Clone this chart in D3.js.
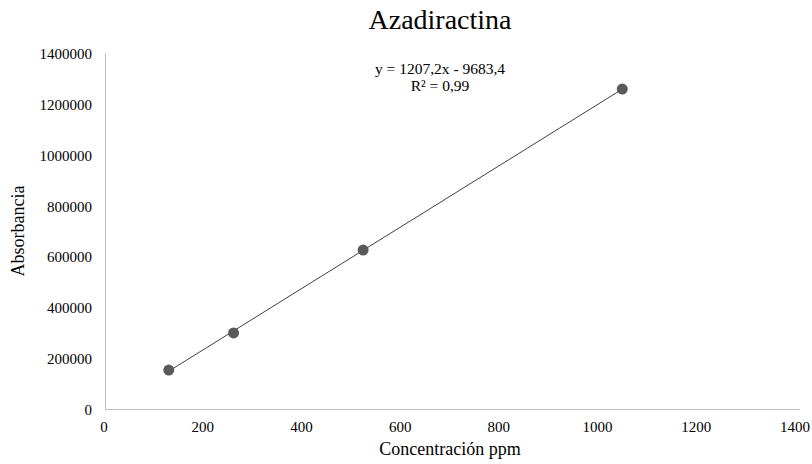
<!DOCTYPE html>
<html>
<head>
<meta charset="utf-8">
<script src="https://cdn.jsdelivr.net/npm/d3@7"></script>
<style>
  body { margin: 0; background: #fff; }
</style>
</head>
<body>
<div id="chart"></div>
<script>
// data
const concentracion = [131.25, 262.5, 525, 1050];
const absorbancia = [153000, 299000, 625000, 1258000];
const xTicks = [0, 200, 400, 600, 800, 1000, 1200, 1400];
const yTicks = [0, 200000, 400000, 600000, 800000, 1000000, 1200000, 1400000];
const slope = 1207.2;
const intercept = -9683.4;

const width = 812, height = 464;
const margin = { top: 53, right: 17, bottom: 55, left: 104 };
const serif = "'Times New Roman', 'Liberation Serif', 'DejaVu Serif', serif";

const svg = d3.select("#chart")
    .append("svg")
    .attr("width", width)
    .attr("height", height)
    .style("font-family", serif);

const x = d3.scaleLinear()
    .domain([0, 1400])
    .range([margin.left, width - margin.right]);

const y = d3.scaleLinear()
    .domain([0, 1400000])
    .range([height - margin.bottom, margin.top]);

// axis lines (light gray, no tick marks)
svg.append("line")
    .attr("x1", x(0) + 1.5).attr("x2", x(1400) + 5)
    .attr("y1", y(0) + 0.5).attr("y2", y(0) + 0.5)
    .attr("stroke", "#bfbfbf").attr("stroke-width", 1);

svg.append("line")
    .attr("x1", x(0) + 1.5).attr("x2", x(0) + 1.5)
    .attr("y1", y(0) + 0.5).attr("y2", y(1400000))
    .attr("stroke", "#bfbfbf").attr("stroke-width", 1);

// tick labels
svg.selectAll(".xlab")
    .data(xTicks)
    .join("text")
    .attr("class", "xlab")
    .attr("x", d => x(d))
    .attr("y", y(0) + 23)
    .attr("text-anchor", "middle")
    .style("font-family", serif)
    .style("font-size", "15px")
    .text(d => d);

svg.selectAll(".ylab")
    .data(yTicks)
    .join("text")
    .attr("class", "ylab")
    .attr("x", x(0) - 12)
    .attr("y", d => y(d) + 6)
    .attr("text-anchor", "end")
    .style("font-family", serif)
    .style("font-size", "15px")
    .text(d => d);

// trendline across the data range
const xMin = d3.min(concentracion), xMax = d3.max(concentracion);
svg.append("line")
    .attr("x1", x(xMin)).attr("y1", y(slope * xMin + intercept))
    .attr("x2", x(xMax)).attr("y2", y(slope * xMax + intercept))
    .attr("stroke", "#404040")
    .attr("stroke-width", 1);

// points
svg.selectAll(".pt")
    .data(concentracion)
    .join("circle")
    .attr("class", "pt")
    .attr("cx", d => x(d))
    .attr("cy", (d, i) => y(absorbancia[i]))
    .attr("r", 5.5)
    .attr("fill", "#595959");

// equation label
svg.append("text")
    .attr("x", 440).attr("y", 74)
    .attr("text-anchor", "middle")
    .style("font-family", serif)
    .style("font-size", "15.5px")
    .text("y = 1207,2x - 9683,4");

svg.append("text")
    .attr("x", 440).attr("y", 91)
    .attr("text-anchor", "middle")
    .style("font-family", serif)
    .style("font-size", "15.5px")
    .text("R² = 0,99");

// title
svg.append("text")
    .attr("x", 440).attr("y", 29)
    .attr("text-anchor", "middle")
    .style("font-family", serif)
    .style("font-size", "28px")
    .text("Azadiractina");

// axis titles
svg.append("text")
    .attr("x", 450).attr("y", 455)
    .attr("text-anchor", "middle")
    .style("font-family", serif)
    .style("font-size", "18px")
    .text("Concentración ppm");

svg.append("text")
    .attr("transform", `translate(24,${(y(0) + y(1400000)) / 2}) rotate(-90)`)
    .attr("text-anchor", "middle")
    .style("font-family", serif)
    .style("font-size", "18px")
    .text("Absorbancia");
</script>
</body>
</html>
